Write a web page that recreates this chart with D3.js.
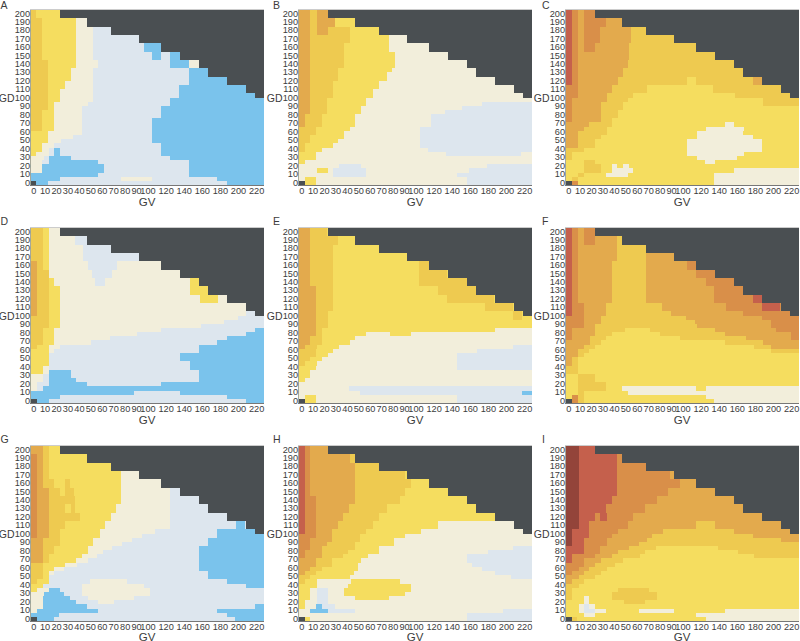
<!DOCTYPE html>
<html><head><meta charset="utf-8">
<script src="https://cdn.jsdelivr.net/npm/d3@7/dist/d3.min.js"></script>
<style>html,body{margin:0;padding:0;background:#fff}svg{display:block}text{font-family:"Liberation Sans",Arial,sans-serif;fill:#3c3c3c}</style>
</head><body><svg id="c" width="800" height="641"></svg>
<script>
// Tick labels
const gvTicks=[0,10,20,30,40,50,60,70,80,90,100,120,140,160,180,200,220];
const gdTicks=[200,190,180,170,160,150,140,130,120,110,100,90,80,70,60,50,40,30,20,10,0];
// Grey "no data" stair: [lowest GD row of the step, last column position with data]
const noDataEdge=[[200,26],[190,53],[180,76],[170,104],[160,126],[150,145],[140,163],[130,172],[120,191],[110,210],[105,219]];
// Each band: [top GD row, "level:end level:end ..."] - holds until next band
const panelA=[[205,"G:2 Y:30"],[195,"G:8 Y:42 C:59 L"],[165,"G:8 Y:42 C:59 L:109 B:126 L"],[155,"G:8 Y:42 C:59 L:117 B:126 L:135 B:145 L"],[145,"G:14 Y:42 C:64 L:135 B:153 C"],[135,"G:14 Y:37 C:59 L:153 B"],[120,"G:14 Y:31 C:59 L:153 B"],[115,"G:14 Y:31 C:59 L:144 B"],[110,"G:14 Y:26 C:59 L:144 B"],[100,"G:14 Y:26 C:59 L:135 B"],[95,"G:14 Y:20 C:54 L:135 B"],[90,"G:14 Y:20 C:48 L:126 B"],[85,"G:8 Y:20 C:48 L:126 B"],[75,"G:8 Y:20 C:48 L:117 B"],[60,"Y:14 C:48 L:117 B"],[55,"Y:14 C:39 L:117 B"],[50,"Y:14 C:27 L:117 B"],[45,"Y:8 C:20 L:126 B"],[40,"Y:8 C:15 L:20 B:26 L:126 B"],[35,"Y:2 C:15 L:20 B:26 L:126 B"],[30,"C:10 L:15 B:37 L:135 B"],[25,"C:8 L:15 B:64 L:153 B"],[20,"C:8 B:70 L:153 B"],[10,"B:64 L:153 B"],[5,"B:26 L:86 C:117 L:181 B"],[0,"K:2 B:14 L:191 B"]];
const panelB=[[205,"O:8 G:15 O:26 Y"],[195,"O:8 G:15 O:33 Y"],[185,"O:8 G:15 O:26 G:48 Y:76 C"],[175,"O:8 G:48 Y:86 C"],[165,"O:8 G:42 Y:86 C"],[155,"O:8 G:42 Y:92 C"],[135,"O:8 G:36 Y:89 C"],[130,"O:8 G:36 Y:84 C"],[120,"O:8 G:31 Y:76 C"],[110,"O:8 G:31 Y:71 C"],[100,"O:8 G:25 Y:64 C"],[95,"O:8 G:25 Y:64 C:178 L"],[90,"O:8 G:25 Y:59 C:158 L"],[85,"O:8 G:25 Y:59 C:142 L"],[80,"O:3 G:20 Y:53 C:128 L"],[65,"G:14 Y:48 C:117 L"],[60,"G:14 Y:42 C:117 L"],[55,"G:8 Y:42 C:117 L"],[50,"G:8 Y:36 C:117 L"],[45,"G:3 Y:31 C:117 L"],[40,"G:3 Y:20 C:125 L"],[35,"Y:14 C:143 L:217 C"],[30,"Y:14 C"],[25,"Y:3 C"],[20,"C:37 L:59 C:183 L"],[15,"C:15 Y:26 C:31 L:64 C:165 L"],[10,"C:31 L:64 C:153 L"],[5,"C:3 Y:14 C:163 L"],[0,"K:3 Y:14 C:163 L"]];
const panelC=[[205,"S:3 R:9 O:15 R:26 O"],[195,"S:3 R:9 O:15 R:37 O"],[185,"S:3 R:9 O:15 R:31 O:62 G"],[165,"S:3 R:9 O:15 R:26 O:60 G"],[155,"S:3 R:9 O:60 G"],[145,"S:3 R:9 O:59 G"],[135,"S:3 R:9 O:54 G"],[125,"S:3 R:9 O:49 G:117 Y:126 G:182 O:191 G"],[115,"R:9 O:43 G:77 Y:143 G"],[105,"R:9 O:38 G:64 Y:164 G"],[100,"R:3 O:38 G:59 Y:192 G"],[95,"R:3 O:32 G:54 Y:192 G"],[90,"R:3 O:32 G:54 Y"],[85,"R:3 O:32 G:49 Y"],[75,"R:3 O:32 G:43 Y"],[70,"O:20 G:43 Y:154 C:163 Y"],[65,"O:15 G:38 Y:136 C:173 Y"],[60,"O:9 G:38 Y:127 C:172 Y"],[55,"O:9 G:32 Y:127 C:182 Y"],[50,"O:9 G:26 Y:117 C:191 Y"],[40,"G:15 Y:117 C:191 Y"],[35,"G:3 Y:117 C:173 Y"],[30,"G:3 Y:127 C:166 Y"],[25,"Y:15 G:26 Y:135 C:145 Y"],[20,"Y:15 G:32 Y:43 C:48 Y:54 C:60 Y"],[15,"Y:15 G:32 Y:43 C:64 Y:163 C"],[10,"Y:9 G:15 Y:37 C:59 Y:144 C"],[5,"Y:3 G:9 Y:144 C"],[0,"K:3 R:9 Y:144 C"]];
const panelD=[[205,"G:9 Y:15 C"],[195,"G:9 Y:15 C:41 L"],[185,"G:9 Y:15 C:49 L"],[165,"O:3 G:9 Y:15 C:54 L:82 C"],[155,"O:3 G:15 C:58 L:77 C"],[145,"O:3 G:15 Y:20 C:61 L:71 C:154 Y:164 C"],[135,"O:3 G:15 Y:26 C:154 Y:172 C"],[125,"O:3 G:15 Y:26 C:164 Y:182 C"],[115,"O:3 G:15 Y:26 C"],[105,"O:3 G:15 Y:26 C:210 L"],[100,"G:15 Y:26 C:202 L"],[95,"G:15 Y:26 C:188 L"],[90,"G:15 Y:26 C:165 L"],[85,"G:9 Y:20 C:126 L:219 B"],[80,"G:9 Y:20 C:102 L:210 B"],[75,"G:9 Y:20 C:75 L:191 B"],[70,"G:9 Y:20 C:57 L:181 B"],[65,"G:3 Y:15 C:26 L:163 B"],[60,"Y:15 C:20 L:163 B"],[55,"Y:15 L:145 B"],[45,"Y:15 L:154 B"],[40,"Y:9 C:15 L:154 B"],[35,"Y:9 C:15 B:37 L:163 B"],[30,"C:9 L:15 B:37 L:163 B"],[25,"C:9 L:15 B:42 L:163 B"],[20,"C:3 L:15 B:53 L:126 B"],[15,"C:3 L:9 B"],[10,"B:99 L:145 B"],[5,"B:26 L:191 B"],[0,"K:3 B:15 L:210 B"]];
const panelE=[[205,"O:8 G:25 Y"],[195,"O:8 G:36 Y"],[185,"O:8 G:31 Y"],[165,"O:8 G:31 Y:116 G:126 Y"],[155,"O:8 G:31 Y:116 G:144 Y"],[145,"O:8 G:31 Y:116 G:163 Y"],[135,"O:14 G:31 Y:135 G:172 Y"],[125,"O:14 G:31 Y:144 G:190 Y"],[115,"O:14 G:31 Y:181 G:209 Y"],[105,"O:14 G:26 Y:209 G:218 Y"],[95,"O:14 G:26 Y"],[85,"O:14 G:20 Y:191 C"],[80,"O:14 G:20 Y:64 C:87 Y:108 C"],[75,"O:8 G:20 Y:53 C"],[70,"O:8 G:20 Y:48 C"],[65,"O:3 G:15 Y:37 C:209 L"],[60,"G:14 Y:31 C:173 L"],[55,"G:14 Y:26 C:153 L"],[50,"G:8 Y:20 C:153 L"],[45,"G:3 Y:15 C:153 L"],[40,"Y:14 C:153 L"],[35,"Y:8 C"],[25,"Y:3 C"],[20,"C"],[15,"C:47 L"],[10,"C:58 L:218 B"],[5,"C:3 Y:14 C:153 L"],[0,"K:3 Y:14 C:153 L"]];
const panelF=[[205,"S:3 R:9 O:15 R:26 O"],[195,"S:3 R:9 O:15 R:26 O:48 G"],[185,"S:3 R:9 O:48 G"],[175,"S:3 R:9 O:48 G:76 O"],[165,"S:3 R:9 O:43 G:76 O:117 R"],[155,"S:3 R:9 O:43 G:76 O:126 R"],[145,"S:3 R:9 O:43 G:76 O:136 R"],[135,"S:3 R:9 O:43 G:76 O:144 R:182 S"],[115,"S:3 R:15 O:37 G:92 O:155 R:191 S:209 R"],[105,"S:3 R:15 O:37 G:101 O:172 R"],[100,"R:15 O:32 G:116 O:191 R"],[95,"R:15 O:32 G:125 O:200 R"],[90,"R:15 O:26 G:127 O:200 R"],[85,"R:3 O:26 G:56 Y:80 G:145 O:205 R"],[80,"R:3 O:26 G:43 Y:90 G:154 O:220 R"],[75,"R:3 O:21 G:37 Y:110 G:175 O:220 R"],[70,"O:21 G:32 Y:154 G:192 O"],[65,"O:15 G:26 Y:183 G:200 O"],[60,"O:9 G:20 Y:200 G"],[55,"O:9 G:15 Y"],[50,"O:3 G:9 Y"],[40,"G:9 Y"],[30,"Y:9 G:26 Y"],[20,"Y:9 G:37 Y"],[15,"Y:9 G:37 Y:53 C:126 Y:136 C"],[10,"Y:9 G:15 Y:59 C"],[5,"Y:3 R:9 G:15 Y:136 C"],[0,"K:3 R:9 G:15 Y:144 C"]];
const panelG=[[205,"O:9 G:15 Y"],[195,"R:3 O:9 G:15 Y:86 C"],[165,"R:3 O:9 G:20 Y:31 G:36 Y:86 C"],[155,"R:3 O:15 G:26 Y:31 G:40 Y:86 C:135 L"],[145,"R:3 O:15 G:41 Y:86 C:135 L"],[135,"R:3 O:15 G:31 Y:37 G:41 Y:81 C:135 L"],[125,"R:3 O:15 G:46 Y:76 C:135 L"],[115,"R:3 O:15 G:31 Y:71 C:135 L:200 B:209 L"],[105,"R:3 O:15 G:26 Y:66 C:120 L:181 B"],[100,"R:3 O:15 G:26 Y:66 C:107 L:181 B"],[95,"O:9 G:26 Y:59 C:97 L:172 B"],[90,"O:9 G:26 Y:59 C:87 L:172 B"],[85,"O:9 G:20 Y:54 C:77 L:163 B"],[80,"O:9 G:20 Y:54 C:69 L:163 B"],[75,"O:9 G:15 Y:48 C:63 L:163 B"],[70,"O:9 G:15 Y:42 C:54 L:163 B"],[65,"G:9 Y:31 C:43 L:163 B"],[60,"G:9 Y:20 C:30 L:163 B"],[55,"G:9 Y:15 C:20 L:172 B"],[50,"G:9 Y:15 L:172 B"],[45,"G:3 Y:15 L:56 C:92 L:191 B"],[40,"Y:9 L:48 C:109 L:210 B"],[35,"Y:3 C:15 B:26 L:48 C:115 L"],[30,"C:10 B:30 L:48 C:115 L"],[25,"C:9 B:36 L:54 C:99 L"],[20,"C:9 B:42 L:64 C:79 L"],[15,"C:9 B:53 L:219 B"],[10,"C:3 B:64 L:181 B"],[5,"B:25 L:191 B"],[0,"K:3 B:20 L:199 B"]];
const panelH=[[205,"S:3 R:8 O:26 G"],[195,"S:3 R:8 O:48 G"],[185,"S:3 R:8 O:53 G"],[175,"S:3 R:8 O:53 G:102 Y"],[165,"S:3 R:8 O:53 G:108 Y"],[155,"S:3 R:8 O:53 G:102 Y"],[145,"S:3 R:14 O:53 G:97 Y"],[135,"S:3 R:14 O:47 G:84 Y"],[125,"S:3 R:14 O:41 G:76 Y"],[115,"S:3 R:14 O:36 G:71 Y:135 C"],[105,"S:3 R:14 O:30 G:64 Y:118 C"],[100,"R:14 O:30 G:58 Y:102 C"],[95,"R:8 O:30 G:58 Y:91 C"],[90,"R:8 O:25 G:53 Y:91 C"],[85,"R:8 O:20 G:53 Y:76 C:209 L"],[80,"R:3 O:20 G:46 Y:76 C:184 L"],[75,"R:3 O:20 G:41 Y:66 C:163 L"],[70,"O:14 G:30 Y:59 C:163 L"],[65,"O:14 G:30 Y:56 C:168 L"],[60,"O:8 G:20 Y:56 C:178 L"],[55,"O:3 G:14 Y:52 C:191 L"],[50,"G:8 Y:48 C:207 L"],[45,"G:3 Y:15 C:49 Y:97 C"],[40,"Y:15 C:46 Y:108 C"],[35,"Y:8 C:15 L:26 C:42 Y:108 C"],[30,"Y:8 C:15 L:26 C:42 Y:102 C"],[25,"Y:8 C:15 L:26 C:53 Y:86 C"],[20,"Y:3 C:15 L:26 C"],[15,"Y:3 C:14 B:20 L:33 C"],[10,"C:8 B:26 L:53 C:199 L"],[5,"C:163 L"],[0,"K:3 Y:8 C:163 L"]];
const panelI=[[205,"D:10 S:26 R"],[195,"D:10 S:48 R"],[175,"D:10 S:48 R:100 O"],[165,"D:10 S:48 R:110 O"],[155,"D:10 S:48 R:98 O"],[145,"D:10 S:43 R:87 O"],[135,"D:10 S:37 R:75 O"],[125,"D:10 S:26 R:31 S:38 R:64 O"],[115,"D:10 S:20 R:59 O:126 G:145 O"],[105,"D:3 S:20 R:49 O:93 G:163 O"],[100,"D:3 S:20 R:43 O:82 G:182 O"],[95,"D:3 S:15 R:38 O:77 G:210 O"],[90,"D:3 S:15 R:38 O:70 G"],[85,"S:15 R:31 O:60 G:86 Y:148 G"],[80,"S:15 R:31 O:49 G:75 Y:167 G"],[75,"S:3 R:26 O:43 G:71 Y:183 G"],[70,"S:3 R:15 O:32 G:54 Y"],[65,"R:15 O:26 G:46 Y"],[60,"R:10 O:20 G:38 Y"],[55,"R:3 O:15 G:32 Y"],[50,"O:10 G:26 Y"],[45,"O:3 G:15 Y"],[40,"G:10 Y"],[35,"G:3 Y:49 G:79 Y"],[30,"G:3 Y:43 G:87 Y"],[25,"G:3 Y:15 C:20 Y:43 G:87 Y"],[20,"Y:15 C:20 Y:55 G:75 Y"],[15,"Y:10 C:15 L:20 C:26 Y"],[10,"Y:10 C:15 L:26 C:37 Y:70 C:104 Y:154 C"],[5,"Y:15 C:26 Y:126 C:154 C"],[0,"K:3 G:8 Y:136 C"]];
const panelNames=["A","B","C","D","E","F","G","H","I"];
const panelData=[panelA,panelB,panelC,panelD,panelE,panelF,panelG,panelH,panelI];
const levelColors={K:"#4a4f52",B:"#7ac3ec",L:"#dde6ee",C:"#f2eedb",Y:"#f5dd5f",G:"#eeca50",O:"#e3aa4d",R:"#d98f49",S:"#c5604c",D:"#93443a"};

const panelW=233,panelH_=175;
const lefts=[31,299,566],tops=[10,228,446];
const labelX=[0,273,542];
const xCol=d3.scaleLinear().domain([-2.5,227.5]).range([0,panelW]).clamp(true);
const yRow=d3.scaleLinear().domain([-2.5,207.5]).range([panelH_,0]);
const xTick=d3.scaleLinear().domain([0,100,220]).range([2.7,117,225.6]);
const yTick=d3.scaleLinear().domain([0,100,200]).range([172.7,87.5,3.4]);
const color=d3.scaleOrdinal().domain(Object.keys(levelColors)).range(Object.values(levelColors));
const svg=d3.select("#c");
panelData.forEach((bands,i)=>{
  const col=i%3,row=Math.floor(i/3);
  const g=svg.append("g").attr("transform",`translate(${lefts[col]},${tops[row]})`);
  const cells=[];
  bands.forEach((b,j)=>{
    const low=j+1<bands.length?bands[j+1][0]+2.5:-2.5,high=b[0]+2.5;
    let start=-2.5;
    b[1].split(" ").forEach(r=>{
      const [lv,end]=r.split(":");
      const e=end===undefined?230:+end;
      cells.push({lv,x0:start,x1:e,y0:low,y1:high});
      start=e;
    });
  });
  noDataEdge.forEach((m,j)=>{
    const next=j?noDataEdge[j-1][0]:210;
    cells.push({lv:"K",x0:m[1],x1:230,y0:m[0]-2.5,y1:next-2.5});
  });
  const rx=v=>Math.round(xCol(v)),ry=v=>Math.round(yRow(v));
  g.selectAll("rect.cell").data(cells).join("rect").attr("class","cell")
    .attr("x",d=>rx(d.x0)).attr("width",d=>Math.max(0,rx(d.x1)-rx(d.x0)))
    .attr("y",d=>ry(d.y1)).attr("height",d=>ry(d.y0)-ry(d.y1))
    .attr("fill",d=>color(d.lv)).attr("shape-rendering","crispEdges");
  g.append("line").attr("x1",-0.5).attr("x2",-0.5).attr("y1",0).attr("y2",panelH_).attr("stroke","#a8a89a");
  g.append("line").attr("x1",-1).attr("x2",panelW).attr("y1",panelH_+0.5).attr("y2",panelH_+0.5).attr("stroke","#777");
  g.append("line").attr("x1",-1).attr("x2",panelW).attr("y1",-0.5).attr("y2",-0.5).attr("stroke","#ccc");
  g.selectAll("text.xt").data(gvTicks).join("text").attr("class","xt").attr("x",d=>xTick(d)).attr("y",panelH_+8.5)
    .attr("text-anchor","middle").attr("font-size",9.2).text(d=>d);
  g.selectAll("text.yt").data(gdTicks).join("text").attr("class","yt").attr("x",-1).attr("y",d=>yTick(d)+3.2)
    .attr("text-anchor","end").attr("font-size",9.2).text(d=>d);
  g.append("text").attr("x",panelW/2-0.5).attr("y",panelH_+(row==2?19.5:20.5)).attr("text-anchor","middle").attr("font-size",11.5).text("GV");
  g.append("text").attr("x",-16.5).attr("y",92).attr("text-anchor","end").attr("font-size",10.5).text("GD");
  svg.append("text").attr("x",labelX[col]+(col==0?0.5:0)).attr("y",row==0?8.5:tops[row]-3).attr("font-size",10.5).text(panelNames[i]);
});
</script></body></html>
